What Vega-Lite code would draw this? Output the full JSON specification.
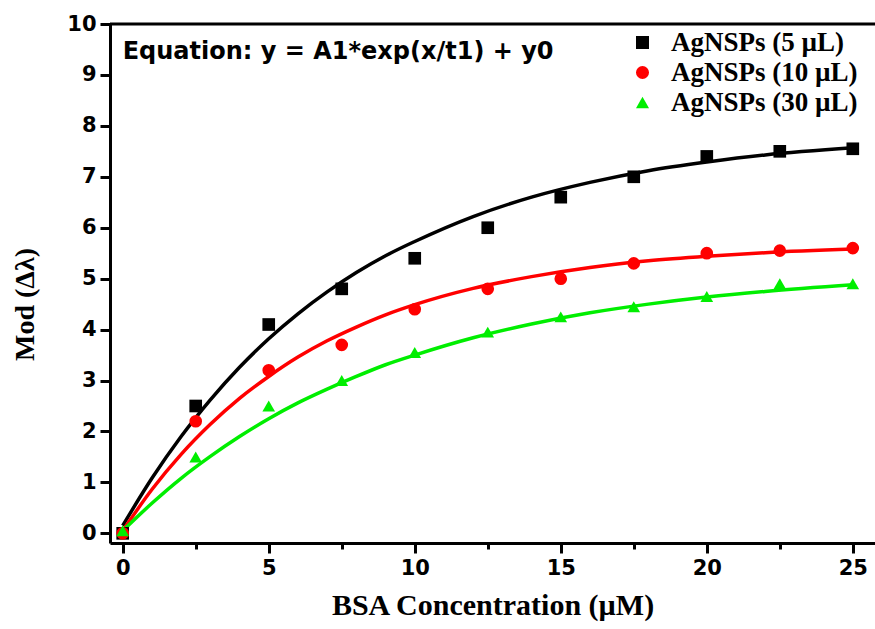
{
  "$schema": "https://vega.github.io/schema/vega-lite/v6.json",
  "width": 765,
  "height": 519,
  "autosize": "none",
  "padding": {"left": 110, "top": 24, "right": 0, "bottom": 86},
  "background": "white",
  "config": {
    "view": {"stroke": null},
    "axis": {"domainColor": "black", "domainWidth": 3, "ticks": true, "tickColor": "#000000", "tickOpacity": 1, "tickWidth": 3, "grid": false,
             "labelFont": "DejaVu Sans", "labelFontWeight": "bold", "labelFontSize": 21, "labelColor": "black",
             "titleFont": "Liberation Serif", "titleFontWeight": "bold", "titleColor": "black"}
  },
  "datasets": {
    "points": [
      {"x": 0, "y": 0, "s": "AgNSPs (5 µL)"},
      {"x": 2.5, "y": 2.5, "s": "AgNSPs (5 µL)"},
      {"x": 5, "y": 4.1, "s": "AgNSPs (5 µL)"},
      {"x": 7.5, "y": 4.8, "s": "AgNSPs (5 µL)"},
      {"x": 10, "y": 5.4, "s": "AgNSPs (5 µL)"},
      {"x": 12.5, "y": 6.0, "s": "AgNSPs (5 µL)"},
      {"x": 15, "y": 6.6, "s": "AgNSPs (5 µL)"},
      {"x": 17.5, "y": 7.0, "s": "AgNSPs (5 µL)"},
      {"x": 20, "y": 7.4, "s": "AgNSPs (5 µL)"},
      {"x": 22.5, "y": 7.5, "s": "AgNSPs (5 µL)"},
      {"x": 25, "y": 7.55, "s": "AgNSPs (5 µL)"},
      {"x": 0, "y": 0, "s": "AgNSPs (10 µL)"},
      {"x": 2.5, "y": 2.2, "s": "AgNSPs (10 µL)"},
      {"x": 5, "y": 3.2, "s": "AgNSPs (10 µL)"},
      {"x": 7.5, "y": 3.7, "s": "AgNSPs (10 µL)"},
      {"x": 10, "y": 4.4, "s": "AgNSPs (10 µL)"},
      {"x": 12.5, "y": 4.8, "s": "AgNSPs (10 µL)"},
      {"x": 15, "y": 5.0, "s": "AgNSPs (10 µL)"},
      {"x": 17.5, "y": 5.3, "s": "AgNSPs (10 µL)"},
      {"x": 20, "y": 5.5, "s": "AgNSPs (10 µL)"},
      {"x": 22.5, "y": 5.55, "s": "AgNSPs (10 µL)"},
      {"x": 25, "y": 5.6, "s": "AgNSPs (10 µL)"},
      {"x": 0, "y": 0.05, "s": "AgNSPs (30 µL)"},
      {"x": 2.5, "y": 1.5, "s": "AgNSPs (30 µL)"},
      {"x": 5, "y": 2.5, "s": "AgNSPs (30 µL)"},
      {"x": 7.5, "y": 3.0, "s": "AgNSPs (30 µL)"},
      {"x": 10, "y": 3.55, "s": "AgNSPs (30 µL)"},
      {"x": 12.5, "y": 3.95, "s": "AgNSPs (30 µL)"},
      {"x": 15, "y": 4.25, "s": "AgNSPs (30 µL)"},
      {"x": 17.5, "y": 4.45, "s": "AgNSPs (30 µL)"},
      {"x": 20, "y": 4.65, "s": "AgNSPs (30 µL)"},
      {"x": 22.5, "y": 4.9, "s": "AgNSPs (30 µL)"},
      {"x": 25, "y": 4.9, "s": "AgNSPs (30 µL)"}
    ],
    "curves": [
      {"x": 0, "y": 0.15, "s": "A"}, {"x": 1, "y": 1.08, "s": "A"}, {"x": 2, "y": 1.90, "s": "A"}, {"x": 3, "y": 2.62, "s": "A"},
      {"x": 4, "y": 3.26, "s": "A"}, {"x": 5, "y": 3.82, "s": "A"}, {"x": 6, "y": 4.31, "s": "A"}, {"x": 7, "y": 4.74, "s": "A"},
      {"x": 8, "y": 5.12, "s": "A"}, {"x": 9, "y": 5.45, "s": "A"}, {"x": 10, "y": 5.73, "s": "A"}, {"x": 12, "y": 6.22, "s": "A"},
      {"x": 14, "y": 6.60, "s": "A"}, {"x": 16, "y": 6.89, "s": "A"}, {"x": 18, "y": 7.12, "s": "A"}, {"x": 20, "y": 7.29, "s": "A"},
      {"x": 22, "y": 7.43, "s": "A"}, {"x": 25, "y": 7.57, "s": "A"},
      {"x": 0, "y": 0.05, "s": "B"}, {"x": 1, "y": 0.86, "s": "B"}, {"x": 2, "y": 1.55, "s": "B"}, {"x": 3, "y": 2.14, "s": "B"},
      {"x": 4, "y": 2.65, "s": "B"}, {"x": 5, "y": 3.08, "s": "B"}, {"x": 6, "y": 3.46, "s": "B"}, {"x": 7, "y": 3.78, "s": "B"},
      {"x": 8, "y": 4.05, "s": "B"}, {"x": 9, "y": 4.29, "s": "B"}, {"x": 10, "y": 4.49, "s": "B"}, {"x": 12, "y": 4.81, "s": "B"},
      {"x": 14, "y": 5.04, "s": "B"}, {"x": 16, "y": 5.22, "s": "B"}, {"x": 18, "y": 5.35, "s": "B"}, {"x": 20, "y": 5.44, "s": "B"},
      {"x": 22, "y": 5.51, "s": "B"}, {"x": 25, "y": 5.58, "s": "B"},
      {"x": 0, "y": 0.05, "s": "C"}, {"x": 1, "y": 0.59, "s": "C"}, {"x": 2, "y": 1.08, "s": "C"}, {"x": 3, "y": 1.51, "s": "C"},
      {"x": 4, "y": 1.90, "s": "C"}, {"x": 5, "y": 2.25, "s": "C"}, {"x": 6, "y": 2.56, "s": "C"}, {"x": 7, "y": 2.83, "s": "C"},
      {"x": 8, "y": 3.08, "s": "C"}, {"x": 9, "y": 3.31, "s": "C"}, {"x": 10, "y": 3.50, "s": "C"}, {"x": 12, "y": 3.84, "s": "C"},
      {"x": 14, "y": 4.11, "s": "C"}, {"x": 16, "y": 4.33, "s": "C"}, {"x": 18, "y": 4.50, "s": "C"}, {"x": 20, "y": 4.64, "s": "C"},
      {"x": 22, "y": 4.75, "s": "C"}, {"x": 25, "y": 4.88, "s": "C"}
    ],
    "one": [{"k": 1}]
  },
  "layer": [
    {
      "data": {"name": "curves"},
      "mark": {"type": "line", "strokeWidth": 3.5, "interpolate": "monotone"},
      "encoding": {
        "x": {"field": "x", "type": "quantitative", "scale": {"domain": [-0.435, 25.76], "nice": false, "zero": false},
              "axis": {"orient": "bottom", "values": [0, 2.5, 5, 7.5, 10, 12.5, 15, 17.5, 20, 22.5, 25],
                       "ticks": true, "tickColor": "#000000", "tickWidth": 3,
                       "tickSize": {"condition": {"test": "datum.value % 5 === 0", "value": 10}, "value": 6},
                       "labelExpr": "datum.value % 5 === 0 ? datum.label : ''", "labelPadding": 4,
                       "title": "BSA Concentration (µM)", "titleFontSize": 30, "titlePadding": 12}},
        "y": {"field": "y", "type": "quantitative", "scale": {"domain": [-0.19, 10], "nice": false, "zero": false},
              "axis": {"orient": "left", "values": [0, 0.5, 1, 1.5, 2, 2.5, 3, 3.5, 4, 4.5, 5, 5.5, 6, 6.5, 7, 7.5, 8, 8.5, 9, 9.5, 10],
                       "ticks": true, "tickColor": "#000000", "tickWidth": 3,
                       "tickSize": {"condition": {"test": "datum.value % 1 === 0", "value": 10}, "value": 6},
                       "labelExpr": "datum.value % 1 === 0 ? datum.label : ''", "labelPadding": 4,
                       "title": "Mod (Δλ)", "titleFontSize": 28, "titleAngle": -90, "titleX": -85, "titleY": 280,
                       "titleAlign": "center", "titleBaseline": "middle"}},
        "stroke": {"field": "s", "type": "nominal", "scale": {"domain": ["A", "B", "C"], "range": ["#000000", "#ff0000", "#00ee00"]}, "legend": null}
      }
    },
    {
      "data": {"name": "points"},
      "mark": {"type": "point", "filled": true, "opacity": 1, "size": 160},
      "encoding": {
        "x": {"field": "x", "type": "quantitative"},
        "y": {"field": "y", "type": "quantitative"},
        "color": {"field": "s", "type": "nominal", "sort": null,
                  "scale": {"domain": ["AgNSPs (5 µL)", "AgNSPs (10 µL)", "AgNSPs (30 µL)"], "range": ["#000000", "#ff0000", "#00ee00"]},
                  "legend": {"orient": "none", "legendX": 519, "legendY": 5, "title": null, "labelFont": "Liberation Serif",
                             "labelFontWeight": "bold", "labelFontSize": 27, "labelColor": "black", "symbolSize": 170,
                             "rowPadding": 2, "labelOffset": 15, "symbolOpacity": 1, "labelLimit": 400}},
        "shape": {"field": "s", "type": "nominal", "sort": null,
                  "scale": {"domain": ["AgNSPs (5 µL)", "AgNSPs (10 µL)", "AgNSPs (30 µL)"], "range": ["square", "circle", "triangle-up"]}}
      }
    },
    {
      "data": {"name": "one"},
      "mark": {"type": "rule", "strokeWidth": 3, "color": "black"},
      "encoding": {"y": {"datum": 10}}
    },
    {
      "data": {"name": "one"},
      "mark": {"type": "text", "font": "DejaVu Sans", "fontWeight": "bold", "fontSize": 24, "align": "left", "baseline": "middle", "color": "black"},
      "encoding": {
        "x": {"datum": 0.0},
        "y": {"datum": 9.45},
        "text": {"value": "Equation: y = A1*exp(x/t1) + y0"}
      }
    }
  ]
}
